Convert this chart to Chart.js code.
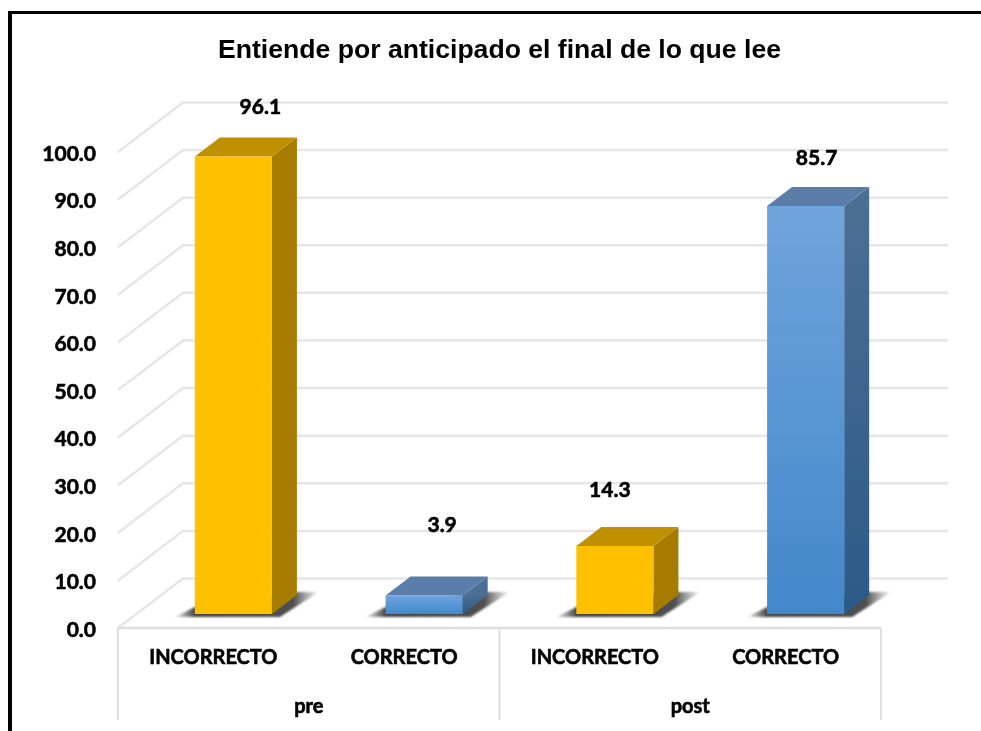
<!DOCTYPE html>
<html><head><meta charset="utf-8">
<style>
html,body{margin:0;padding:0;background:#fff;width:981px;height:731px;overflow:hidden}
#frame{position:absolute;left:8px;top:11px;right:0;bottom:0;border-top:3px solid #000;border-left:4px solid #000;pointer-events:none}
canvas{position:absolute;left:0;top:0}
</style>
<script src="https://cdn.jsdelivr.net/npm/chart.js@4"></script>
</head><body>
<canvas id="c" width="981" height="731"></canvas>
<div id="frame"></div>
<script>
const chartTitle = 'Entiende por anticipado el final de lo que lee';
const categories = ['INCORRECTO', 'CORRECTO', 'INCORRECTO', 'CORRECTO'];
const groups = ['pre', 'post'];
const values = [96.1, 3.9, 14.3, 85.7];

const FONT = 'Lato, sans-serif';
const wall = {dx: 65, dy: -49.5, right: 948};
const barShift = {dx: 20, dy: -14};
const depth = {dx: 25, dy: -19};
const labelNudge = [[27, -49], [18, -70], [-5, -56], [11, -48]];
const yellow = {front: ['#FFC000', '#FFC000'], top: '#BF9000', side: ['#A67C00', '#A67C00']};
const blue = {front: ['#70A4DD', '#4288CB'], top: '#5A7EA9', side: ['#4B6E94', '#2C5A88']};
const palette = [yellow, blue, yellow, blue];
const heavyTicks = {color: '#000', textStrokeColor: '#000', textStrokeWidth: 0.6};

function vGrad(c, y0, y1, cols) {
  const g = c.createLinearGradient(0, y0, 0, y1);
  g.addColorStop(0, cols[0]); g.addColorStop(1, cols[1]);
  return g;
}
const scene = {
  id: 'scene',
  beforeDatasetsDraw(chart) {
    const c = chart.ctx, y = chart.scales.y, x = chart.scales.x;
    c.save();
    c.strokeStyle = '#E6E6E6'; c.lineWidth = 2.5;
    y.ticks.forEach(t => {
      const p = y.getPixelForValue(t.value);
      c.beginPath();
      c.moveTo(x.left, p);
      c.lineTo(x.left + wall.dx, p + wall.dy);
      c.lineTo(wall.right, p + wall.dy);
      c.stroke();
    });
    c.strokeStyle = '#DEDEDE';
    const p0 = y.getPixelForValue(0);
    c.beginPath(); c.moveTo(x.left, p0); c.lineTo(x.right, p0); c.stroke();
    const mid = (x.left + x.right) / 2;
    c.lineWidth = 2;
    [x.left, mid, x.right].forEach(v => {
      c.beginPath(); c.moveTo(v, p0); c.lineTo(v, chart.height - 11); c.stroke();
    });
    c.restore();
  },
  beforeDatasetDraw(chart, args) {
    const c = chart.ctx;
    c.save();
    c.translate(barShift.dx, barShift.dy);
    args.meta.data.forEach((el, i) => {
      const {x, y, base, width} = el.getProps(['x', 'y', 'base', 'width'], true);
      const l = x - width / 2, r = x + width / 2, pal = palette[i];
      el.options = Object.assign({}, el.options, {backgroundColor: vGrad(c, y, base, pal.front)});
      const s = c.createLinearGradient(l - 22, 0, r + 48, 0);
      s.addColorStop(0, 'rgba(70,70,70,0)');
      s.addColorStop(0.15, 'rgba(60,60,60,0.95)');
      s.addColorStop(0.82, 'rgba(60,60,60,0.9)');
      s.addColorStop(1, 'rgba(90,90,90,0)');
      c.save();
      c.filter = 'blur(1.2px)';
      c.fillStyle = s;
      c.beginPath();
      c.moveTo(l - 20, base + 3);
      c.lineTo(r + 8, base + 3);
      c.lineTo(r + depth.dx + 22, base + depth.dy - 3);
      c.lineTo(r + depth.dx - 4, base + depth.dy - 3);
      c.lineTo(l, base - 7);
      c.closePath();
      c.fill();
      c.restore();
      c.fillStyle = vGrad(c, y, base, pal.side);
      c.beginPath();
      c.moveTo(r, y); c.lineTo(r + depth.dx, y + depth.dy);
      c.lineTo(r + depth.dx, base + depth.dy); c.lineTo(r, base);
      c.closePath(); c.fill();
      c.fillStyle = pal.top;
      c.beginPath();
      c.moveTo(l, y); c.lineTo(l + depth.dx, y + depth.dy);
      c.lineTo(r + depth.dx, y + depth.dy); c.lineTo(r, y);
      c.closePath(); c.fill();
    });
  },
  afterDatasetDraw(chart) { chart.ctx.restore(); },
  afterDatasetsDraw(chart) {
    const c = chart.ctx, meta = chart.getDatasetMeta(0);
    c.save();
    c.font = 'bold 21px ' + FONT;
    c.fillStyle = '#000'; c.strokeStyle = '#000'; c.lineWidth = 0.6;
    c.textAlign = 'center'; c.textBaseline = 'middle';
    meta.data.forEach((el, i) => {
      const tx = el.x + barShift.dx + labelNudge[i][0], ty = el.y + barShift.dy + labelNudge[i][1];
      c.strokeText(values[i].toFixed(1), tx, ty);
      c.fillText(values[i].toFixed(1), tx, ty);
    });
    c.restore();
  }
};

new Chart(document.getElementById('c'), {
  type: 'bar',
  plugins: [scene],
  data: {
    labels: categories,
    datasets: [{
      data: values,
      clip: false,
      borderWidth: 0,
      categoryPercentage: 0.404,
      barPercentage: 1,
      backgroundColor: ctx => palette[ctx.dataIndex || 0].front[0]
    }]
  },
  options: {
    responsive: false,
    animation: false,
    layout: {padding: {left: 0, right: 100, top: 0, bottom: 3}},
    plugins: {
      legend: {display: false},
      tooltip: {enabled: false},
      title: {
        display: true, text: chartTitle, color: '#000', fullSize: false,
        font: {family: 'Liberation Sans', size: 26.6, weight: 'bold'},
        padding: {top: 35, bottom: 85}
      }
    },
    scales: {
      x: {
        grid: {display: false, drawTicks: false}, border: {display: false},
        ticks: {...heavyTicks, padding: 18, maxRotation: 0, autoSkip: false, font: {family: FONT, size: 20, weight: 'bold'}},
        afterFit(s) { s.height = 52; }
      },
      x2: {
        type: 'category', labels: groups, position: 'bottom', offset: true,
        grid: {display: false, drawTicks: false}, border: {display: false},
        ticks: {...heavyTicks, padding: 15, font: {family: FONT, size: 20, weight: 'bold'}},
        afterFit(s) { s.height = 48; }
      },
      y: {
        min: 0, max: 100,
        grid: {display: false, drawTicks: false}, border: {display: false},
        ticks: {...heavyTicks, stepSize: 10, padding: 22, labelOffset: 2, callback: v => v.toFixed(1), font: {family: FONT, size: 21, weight: 'bold'}},
        afterFit(s) { s.width = 118; }
      }
    }
  }
});
</script>
</body></html>
